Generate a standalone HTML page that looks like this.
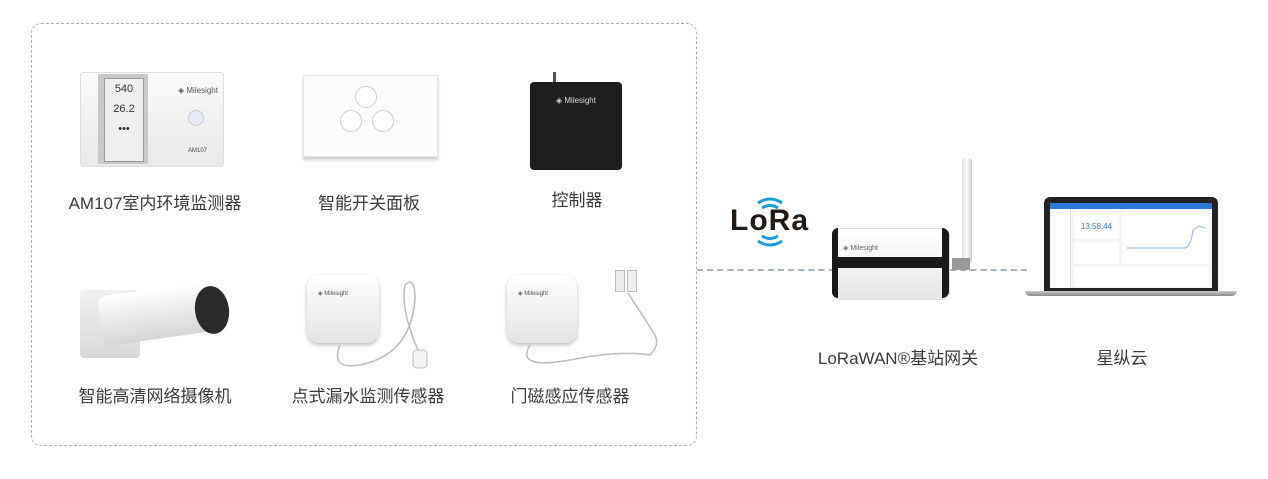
<!DOCTYPE html>
<html><head><meta charset="utf-8"><style>
body{margin:0;width:1268px;height:479px;background:#fff;position:relative;overflow:hidden;font-family:"Liberation Sans","Noto Sans CJK SC",sans-serif;}
.a{position:absolute}
.lbl{position:absolute;font-size:17px;color:#3a3a3a;text-align:center;white-space:nowrap;transform:translateX(-50%)}
</style></head><body>
<div class="a" style="left:31px;top:23px;width:664px;height:421px;border:1.5px dashed #a5b1bd;border-radius:10px"></div>
<div class="a" style="left:697px;top:269px;width:330px;border-top:2px dashed #a5b1bd"></div>

<!-- AM107 -->
<div class="a" style="left:80px;top:72px;width:142px;height:93px;background:linear-gradient(#fafafa,#e8e8e8);border:1px solid #ddd;border-radius:3px"></div>
<div class="a" style="left:98px;top:74px;width:50px;height:90px;background:#c9c9c9"></div>
<div class="a" style="left:104px;top:78px;width:38px;height:82px;background:#eef0ee;border:1px solid #999;font-size:11px;color:#333;text-align:center;line-height:20px">540<br>26.2<br>•••</div>
<div class="a" style="left:188px;top:110px;width:14px;height:14px;border-radius:50%;background:#e6e9f5;border:1px solid #ccc"></div>
<div class="a" style="left:178px;top:86px;font-size:8px;color:#555">◈ Milesight</div>
<div class="a" style="left:188px;top:148px;font-size:6px;color:#444">AM107</div>
<div class="lbl" style="left:155px;top:189px">AM107室内环境监测器</div>

<!-- switch -->
<div class="a" style="left:303px;top:75px;width:133px;height:80px;background:#fbfbfb;border:1px solid #e4e4e4;box-shadow:0 3px 3px #ccc"></div>
<div class="a" style="left:355px;top:86px;width:20px;height:20px;border-radius:50%;border:1px solid #ccc;background:#fff"></div>
<div class="a" style="left:340px;top:110px;width:20px;height:20px;border-radius:50%;border:1px solid #ccc;background:#fff"></div>
<div class="a" style="left:372px;top:110px;width:20px;height:20px;border-radius:50%;border:1px solid #ccc;background:#fff"></div>
<div class="lbl" style="left:369px;top:189px">智能开关面板</div>

<!-- controller -->
<div class="a" style="left:553px;top:72px;width:3px;height:14px;background:#555"></div>
<div class="a" style="left:530px;top:82px;width:92px;height:88px;background:#1e1e1e;border-radius:4px"></div>
<div class="a" style="left:556px;top:96px;font-size:8px;color:#ddd">◈ Milesight</div>
<div class="lbl" style="left:577px;top:186px">控制器</div>

<!-- camera -->
<div class="a" style="left:80px;top:290px;width:60px;height:68px;background:linear-gradient(#f0f0f0,#d8d8d8);border-radius:4px"></div>
<div class="a" style="left:100px;top:288px;width:125px;height:50px;background:linear-gradient(#fff,#d5d5d5);border-radius:10px 30px 30px 10px;transform:rotate(-8deg)"></div>
<div class="a" style="left:195px;top:286px;width:34px;height:48px;background:#2a2a2a;border-radius:50%;transform:rotate(-8deg)"></div>
<div class="lbl" style="left:155px;top:382px">智能高清网络摄像机</div>

<!-- leak -->
<div class="a" style="left:307px;top:275px;width:72px;height:68px;background:linear-gradient(#fff,#e4e4e4);border-radius:12px;box-shadow:0 2px 4px #bbb"></div>
<div class="a" style="left:318px;top:290px;font-size:6px;color:#555">◈ Milesight</div>
<svg class="a" style="left:320px;top:270px" width="120" height="110"><path d="M20 75 Q10 100 40 95 Q90 85 95 30 Q95 5 85 15 Q80 40 100 85" fill="none" stroke="#bbb" stroke-width="1.5"/><rect x="93" y="80" width="14" height="18" rx="4" fill="#f4f4f4" stroke="#bbb"/></svg>
<div class="lbl" style="left:368px;top:382px">点式漏水监测传感器</div>

<!-- door -->
<div class="a" style="left:507px;top:275px;width:70px;height:68px;background:linear-gradient(#fff,#e4e4e4);border-radius:12px;box-shadow:0 2px 4px #bbb"></div>
<div class="a" style="left:518px;top:290px;font-size:6px;color:#555">◈ Milesight</div>
<div class="a" style="left:615px;top:270px;width:8px;height:20px;background:#eee;border:1px solid #bbb"></div>
<div class="a" style="left:627px;top:270px;width:8px;height:20px;background:#eee;border:1px solid #bbb"></div>
<svg class="a" style="left:510px;top:285px" width="150" height="90"><path d="M20 60 Q5 85 60 75 Q110 65 140 70 Q150 60 145 50 L118 8" fill="none" stroke="#bbb" stroke-width="1.5"/></svg>
<div class="lbl" style="left:570px;top:382px">门磁感应传感器</div>

<!-- LoRa -->
<svg class="a" style="left:740px;top:193px" width="60" height="60"><path d="M18 10 Q30 2 42 10 M22 15 Q30 10 38 15" stroke="#1b9bd8" stroke-width="3" fill="none"/><path d="M18 48 Q30 56 42 48 M22 43 Q30 48 38 43" stroke="#1b9bd8" stroke-width="3" fill="none"/></svg>
<div class="a" style="left:730px;top:204px;font-size:30px;font-weight:bold;color:#231815;letter-spacing:1px">LoRa</div>

<!-- gateway -->
<div class="a" style="left:962px;top:158px;width:10px;height:105px;background:linear-gradient(90deg,#ddd,#fff,#ccc);border-radius:3px"></div>
<div class="a" style="left:952px;top:258px;width:18px;height:12px;background:#999"></div>
<div class="a" style="left:832px;top:228px;width:116px;height:70px;background:linear-gradient(#fff,#e6e6e6);border-radius:8px;border:1px solid #ddd;overflow:hidden"></div>
<div class="a" style="left:832px;top:228px;width:6px;height:70px;background:#1a1a1a;border-radius:8px 0 0 8px"></div>
<div class="a" style="left:942px;top:228px;width:7px;height:70px;background:#1a1a1a;border-radius:0 8px 8px 0"></div>
<div class="a" style="left:832px;top:257px;width:117px;height:11px;background:#1a1a1a"></div>
<div class="a" style="left:843px;top:244px;font-size:7px;color:#666">◈ Milesight</div>
<div class="lbl" style="left:898px;top:344px">LoRaWAN®基站网关</div>

<!-- laptop -->
<div class="a" style="left:1044px;top:197px;width:174px;height:94px;background:#222;border-radius:6px 6px 0 0"></div>
<div class="a" style="left:1050px;top:203px;width:162px;height:85px;background:#f3f5f8"></div>
<div class="a" style="left:1050px;top:203px;width:162px;height:6px;background:#2b7bd6"></div>
<div class="a" style="left:1050px;top:209px;width:20px;height:79px;background:#fff;border-right:1px solid #ddd"></div>
<div class="a" style="left:1074px;top:214px;width:45px;height:25px;background:#fff;font-size:8px;color:#2b7bd6;text-align:center;line-height:25px">13:58:44</div>
<div class="a" style="left:1122px;top:214px;width:87px;height:50px;background:#fff"></div>
<svg class="a" style="left:1125px;top:218px" width="82" height="40"><path d="M2 30 L60 30 Q66 28 68 12 L74 8 L80 10" stroke="#7bb5ea" fill="none"/></svg>
<div class="a" style="left:1074px;top:242px;width:45px;height:22px;background:#fff"></div>
<div class="a" style="left:1074px;top:267px;width:135px;height:20px;background:#fff"></div>
<div class="a" style="left:1025px;top:291px;width:212px;height:5px;background:linear-gradient(#ccc,#888);border-radius:0 0 6px 6px"></div>
<div class="lbl" style="left:1122px;top:344px">星纵云</div>
</body></html>
